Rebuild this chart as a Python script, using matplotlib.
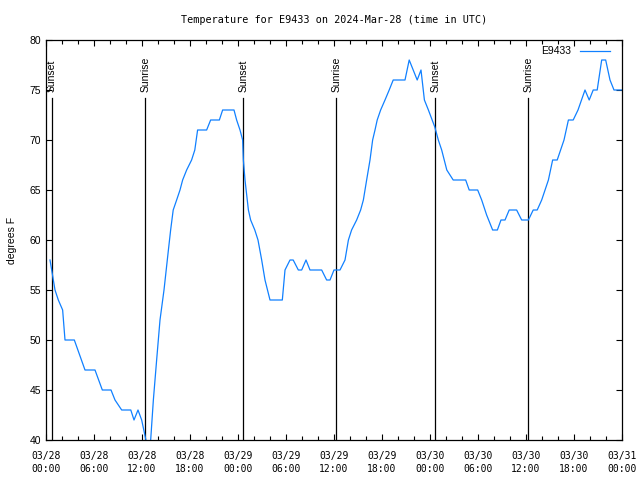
import numpy as np
import pandas as pd
import matplotlib
matplotlib.use("Agg")
import matplotlib.pyplot as plt
import matplotlib.dates as mdates

# hours after 2024-03-28 00:00 UTC and temperature (F)
hours = [0.5, 0.71, 1.125, 1.54, 2.08, 2.375, 3.54, 4.875, 6.125, 7.04, 8.125,
         8.625, 9.46, 10.6, 11.0, 11.5, 11.96, 12.75, 13.0, 13.42, 13.83, 14.25,
         14.75, 15.3, 15.58, 15.9, 16.33, 16.75, 17.08, 17.58, 18.2, 18.6, 18.95,
         20.08, 20.58, 21.67, 22.08, 23.5, 23.83, 24.25, 24.58, 24.67, 24.875,
         25.3, 25.58, 26.1, 26.5, 26.96, 27.375, 28.0, 29.54, 29.875, 30.5, 30.9,
         31.54, 31.96, 32.5, 33.0, 34.46, 35.08, 35.5, 36.0, 36.75, 37.375, 37.8,
         38.2, 38.83, 39.33, 39.67, 40.08, 40.5, 40.83, 41.125, 41.4, 41.83,
         42.375, 42.9, 43.4, 44.875, 45.4, 45.9, 46.4, 46.875, 47.3, 47.8, 48.6,
         49.04, 49.46, 50.1, 50.9, 52.46, 52.9, 53.96, 54.46, 55.08, 55.83, 56.42,
         56.875, 57.375, 57.9, 58.83, 59.46, 60.3, 60.9, 61.4, 61.96, 62.8, 63.33,
         63.9, 64.75, 65.3, 65.9, 66.5, 67.375, 67.9, 68.4, 68.9, 69.46, 69.96,
         70.5, 71.0, 72.0]
temps = [58, 57, 55, 54, 53, 50, 50, 47, 47, 45, 45,
         44, 43, 43, 42, 43, 42, 39, 39, 44, 48, 52,
         55, 59, 61, 63, 64, 65, 66, 67, 68, 69, 71,
         71, 72, 72, 73, 73, 72, 71, 70, 68, 66,
         63, 62, 61, 60, 58, 56, 54, 54, 57, 58, 58,
         57, 57, 58, 57, 57, 56, 56, 57, 57, 58, 60,
         61, 62, 63, 64, 66, 68, 70, 71, 72, 73,
         74, 75, 76, 76, 78, 77, 76, 77, 74, 73, 71.3,
         70, 69, 67, 66, 66, 65, 65, 64, 62.5, 61, 61,
         62, 62, 63, 63, 62, 62, 63, 63, 64, 66, 68,
         68, 70, 72, 72, 73, 75, 74, 75, 75, 78, 78,
         76, 75, 75]

sun_hours = [0.71, 12.41, 24.65, 36.29, 48.65, 60.29]
sun_labels = ["Sunset", "Sunrise", "Sunset", "Sunrise", "Sunset", "Sunrise"]

start = pd.Timestamp("2024-03-28 00:00")
times = start + pd.to_timedelta(hours, unit="h")
sun_times = start + pd.to_timedelta(sun_hours, unit="h")

sans = "Liberation Sans"
mono = "DejaVu Sans Mono"

fig = plt.figure(figsize=(6.4, 4.8), dpi=100)
ax = fig.add_axes([46 / 640, 40 / 480, 576 / 640, 400 / 480])

for t, lab in zip(sun_times, sun_labels):
    ax.plot([t, t], [40, 74.2], color="black", lw=0.9)
    ax.text(t, 74.8, lab, rotation=90, ha="center", va="bottom",
            fontsize=7.5, family=sans)

ax.plot(times, temps, color="#1080ff", lw=0.9, label="E9433")

ax.set_xlim(start, start + pd.Timedelta(hours=72))
ax.set_ylim(40, 80)
ax.set_yticks(np.arange(40, 81, 5))
ax.xaxis.set_major_locator(mdates.HourLocator(byhour=[0, 6, 12, 18]))
ax.xaxis.set_minor_locator(mdates.HourLocator(byhour=range(0, 24, 2)))
ax.xaxis.set_major_formatter(mdates.DateFormatter("%m/%d\n%H:%M"))

ax.tick_params(which="both", direction="in", top=True, right=True, width=0.8)
ax.tick_params(which="major", length=4)
ax.tick_params(which="minor", length=3)
ax.tick_params(axis="x", pad=8)
for lab in ax.get_xticklabels():
    lab.set_family(mono)
    lab.set_fontsize(7)
    lab.set_linespacing(1.35)
for lab in ax.get_yticklabels():
    lab.set_family(sans)
    lab.set_fontsize(7.5)
for sp in ax.spines.values():
    sp.set_linewidth(0.9)

ax.set_ylabel("degrees F", family=sans, fontsize=7.5, labelpad=9)
ax.set_title("Temperature for E9433 on 2024-Mar-28 (time in UTC)",
             family=mono, fontsize=7.3, pad=12)
ax.legend(loc="upper right", bbox_to_anchor=(0.99, 1.0), frameon=False,
          markerfirst=False, handlelength=2.9,
          prop={"family": sans, "size": 7.5}, borderaxespad=0.2)

fig.savefig("out.png", dpi=100)
